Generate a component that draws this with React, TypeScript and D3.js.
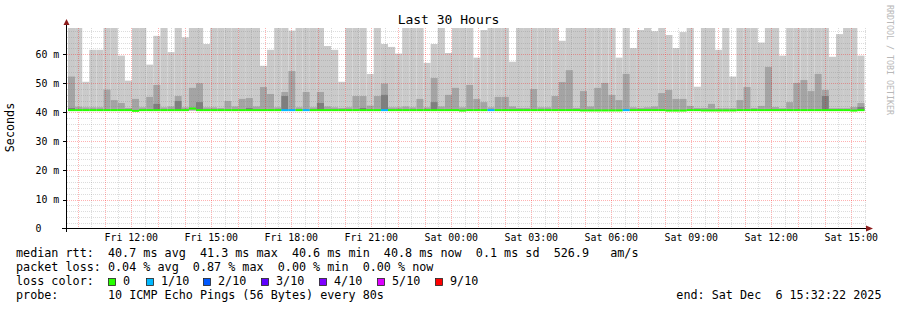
import React from "react";
import * as d3 from "d3";

// ---- data ----
const TITLE = "Last 30 Hours";
const Y_LABEL = "Seconds";
const WATERMARK = "RRDTOOL / TOBI OETIKER";
const T_START = new Date(2025, 11, 5, 9, 35, 15);
const T_END = new Date(2025, 11, 6, 15, 35, 15);
const FIRST_COLUMN = new Date(2025, 11, 5, 9, 37, 30);
const STEP_MS = 960 * 1000;
const Y_MAX_MS = 69;
const Y_TICKS = [0, 10, 20, 30, 40, 50, 60];

// light smoke top (ms), 70 = above the graph top
const smokeTop = [
  70, 70, 50.5, 61.5, 61.5, 70, 70, 59.5, 50.9, 70,
  70, 56.4, 66.3, 70, 60.7, 70, 65.8, 70, 70, 63.5,
  70, 70, 70, 70, 70, 70, 70, 56.0, 61.5, 70,
  70, 68.1, 70, 70, 70, 70, 62.8, 61.5, 50.5, 70,
  70, 70, 53.2, 70, 63.5, 62.5, 60.2, 70, 70, 70,
  57.0, 63.5, 70, 60.4, 70, 70, 70, 58.8, 68.3, 70,
  70, 70, 57.4, 70, 70, 70, 70, 70, 70, 64.6,
  70, 70, 70, 70, 70, 70, 70, 58.8, 70, 62.1,
  68.3, 70, 67.9, 70, 66.6, 62.1, 67.6, 70, 48.8, 70,
  70, 61.5, 70, 52.3, 70, 70, 70, 64.0, 70, 70,
  59.5, 70, 70, 70, 70, 70, 70, 59.1, 66.9, 70,
  70, 59.5,
];
// middle smoke top (ms)
const smokeMid = [
  52.3, 41.9, 41.7, 41.7, 41.7, 47.8, 44.2, 43.2, 41.5, 44.6,
  41.7, 45.3, 49.4, 41.7, 42.0, 45.6, 41.7, 48.4, 50.0, 41.7,
  41.7, 41.5, 43.9, 42.0, 44.6, 44.9, 42.0, 48.7, 46.3, 41.7,
  47.0, 54.2, 41.7, 47.0, 41.7, 47.0, 42.0, 41.7, 41.5, 41.7,
  45.6, 45.6, 42.3, 45.6, 49.9, 41.7, 41.7, 42.0, 41.7, 44.6,
  41.7, 51.8, 42.0, 46.0, 48.4, 41.7, 49.4, 44.6, 43.5, 41.7,
  45.3, 45.3, 42.0, 41.5, 41.5, 48.0, 41.7, 41.7, 45.6, 50.4,
  54.5, 41.5, 47.3, 42.0, 48.4, 50.1, 46.0, 44.2, 53.2, 41.7,
  41.5, 41.7, 42.0, 46.6, 47.7, 44.6, 44.6, 42.2, 41.5, 41.5,
  42.9, 41.4, 41.4, 41.4, 44.2, 48.7, 41.5, 42.2, 55.6, 41.8,
  41.4, 43.5, 50.1, 51.1, 47.3, 53.2, 47.7, 41.4, 41.4, 41.4,
  41.8, 43.2,
];
// dark smoke top (ms), 0 = none
const smokeDark = [
  41.5, 0, 0, 0, 0, 0, 0, 0, 0, 0,
  0, 0, 42.9, 0, 0, 43.9, 0, 0, 43.5, 0,
  0, 0, 0, 0, 0, 41.5, 0, 0, 0, 0,
  45.6, 0, 0, 0, 0, 43.2, 0, 0, 0, 0,
  0, 41.5, 0, 0, 46.0, 0, 0, 0, 0, 0,
  0, 43.5, 0, 0, 0, 0, 0, 0, 0, 0,
  0, 0, 0, 0, 0, 0, 0, 0, 0, 0,
  0, 0, 0, 0, 0, 0, 0, 0, 0, 0,
  0, 0, 0, 0, 0, 0, 0, 0, 0, 0,
  0, 0, 0, 0, 0, 0, 0, 0, 0, 0,
  0, 0, 0, 0, 0, 0, 45.6, 0, 0, 0,
  0, 41.8,
];
// median rtt (ms)
const median = [
  40.75, 40.75, 40.75, 40.75, 40.75, 40.75, 40.75, 40.75, 40.75, 40.5,
  40.75, 40.75, 40.75, 40.75, 40.75, 40.75, 40.75, 41.3, 40.75, 40.75,
  40.75, 40.75, 40.75, 40.75, 40.75, 40.75, 40.75, 40.75, 40.75, 40.75,
  40.75, 40.75, 40.75, 40.75, 40.75, 40.75, 40.75, 40.75, 40.75, 40.75,
  40.75, 40.75, 40.75, 40.75, 40.75, 40.75, 40.75, 40.75, 40.75, 40.75,
  40.75, 40.75, 40.75, 40.75, 40.75, 40.6, 40.75, 40.75, 40.75, 40.75,
  40.75, 40.75, 40.75, 40.75, 40.75, 40.75, 40.75, 40.75, 40.75, 40.75,
  40.75, 40.75, 40.65, 40.65, 40.65, 40.65, 40.65, 40.65, 40.75, 40.75,
  40.75, 40.75, 40.75, 40.75, 40.6, 40.6, 40.6, 40.75, 40.75, 40.65,
  40.65, 40.65, 40.65, 40.65, 40.75, 40.75, 40.75, 40.75, 40.75, 40.75,
  40.75, 40.75, 40.75, 40.75, 40.75, 40.75, 40.75, 40.75, 40.75, 40.75,
  40.6, 40.75,
];
// columns where 1 of 10 pings was lost
const lossCols = [30, 31, 33, 44, 59, 78];

const LOSS_LEVELS = ["0", "1/10", "2/10", "3/10", "4/10", "5/10", "9/10"];
const LOSS_COLORS = ["#26ff00", "#00b8ff", "#0059ff", "#5e00ff", "#7e00ff", "#dd00ff", "#ff0000"];

const LEGEND_RTT = "median rtt:  40.7 ms avg  41.3 ms max  40.6 ms min  40.8 ms now  0.1 ms sd  526.9   am/s";
const LEGEND_LOSS = "packet loss: 0.04 % avg  0.87 % max  0.00 % min  0.00 % now";
const LEGEND_COLOR = "loss color:";
const LEGEND_PROBE = "probe:       10 ICMP Echo Pings (56 Bytes) every 80s";
const LEGEND_END = "end: Sat Dec  6 15:32:22 2025";

// ---- layout ----
const W = 897;
const H = 310;
const PL = 67, PR = 867, PT = 28, PB = 228.6;
const MONO = "'DejaVu Sans Mono', monospace";
const PRE = { whiteSpace: "pre" as const };

export default function App() {
  const x = d3.scaleTime().domain([T_START, T_END]).range([PL, PR]);
  const y = d3.scaleLinear().domain([0, Y_MAX_MS]).range([PB, PT]);
  const SMOKE_BASE = 40.6;

  const cols = smokeTop.map((t, i) => {
    const s = new Date(+FIRST_COLUMN + i * STEP_MS);
    const e = new Date(+FIRST_COLUMN + (i + 1) * STEP_MS);
    return {
      x0: x(s),
      x1: Math.min(x(e), PR),
      top: Math.min(t, Y_MAX_MS),
      mid: smokeMid[i],
      dark: smokeDark[i],
      med: median[i],
      loss: lossCols.includes(i) ? 1 : 0,
    };
  });

  const minorY = d3.range(2, Y_MAX_MS, 2).filter((v) => v % 10 !== 0);
  const majorY = Y_TICKS.filter((v) => v > 0);
  const minorX = d3.timeMinute.every(30)!.range(T_START, T_END).filter((d) => d.getMinutes() !== 0);
  const majorX = d3.timeHour.every(1)!.range(T_START, T_END);
  const labelX = d3.timeHour.every(3)!.range(T_START, T_END);
  const fmt = d3.timeFormat("%a %H:%M");

  const swatchX = [108, 146, 203, 261, 319, 377, 435];
  const minorStroke = "rgba(128,128,128,0.28)";
  const majorStroke = "rgba(255,0,0,0.3)";

  return (
    <svg
      width={W}
      height={H}
      style={{ position: "absolute", left: 0, top: 0, background: "#fff" }}
      fontFamily={MONO}
    >
      <rect x={0} y={0} width={W} height={H} fill="#fff" />
      <text x={448.5} y={24} fontSize={13} textAnchor="middle" fill="#000">
        {TITLE}
      </text>
      <text transform={`translate(887,5) rotate(90)`} fontSize={8.3} fill="#b8b8b8">
        {WATERMARK}
      </text>
      <text transform={`translate(14,127.5) rotate(-90)`} fontSize={11.75} textAnchor="middle" fill="#000">
        {Y_LABEL}
      </text>

      {/* smoke */}
      {cols.map((c, i) => (
        <g key={"s" + i}>
          <rect x={c.x0} width={c.x1 - c.x0} y={y(c.top)} height={y(SMOKE_BASE) - y(c.top)} fill="#cacaca" />
          <rect x={c.x0} width={c.x1 - c.x0} y={y(c.mid)} height={y(SMOKE_BASE) - y(c.mid)} fill="#a4a4a4" />
          {c.dark > 0 && (
            <rect x={c.x0} width={c.x1 - c.x0} y={y(c.dark)} height={y(SMOKE_BASE) - y(c.dark)} fill="#7e7e7e" />
          )}
        </g>
      ))}

      {/* grid */}
      <g strokeDasharray="1,1" strokeWidth={1} shapeRendering="crispEdges">
        {minorY.map((v) => (
          <line key={"my" + v} x1={PL} x2={PR} y1={Math.round(y(v)) + 0.5} y2={Math.round(y(v)) + 0.5} stroke={minorStroke} />
        ))}
        {minorX.map((d, i) => (
          <line key={"mx" + i} x1={Math.round(x(d)) + 0.5} x2={Math.round(x(d)) + 0.5} y1={PT} y2={PB} stroke={minorStroke} />
        ))}
        {majorY.map((v) => (
          <line key={"My" + v} x1={PL} x2={PR} y1={Math.round(y(v)) + 0.5} y2={Math.round(y(v)) + 0.5} stroke={majorStroke} />
        ))}
        {majorX.map((d, i) => (
          <line key={"Mx" + i} x1={Math.round(x(d)) + 0.5} x2={Math.round(x(d)) + 0.5} y1={PT} y2={PB} stroke={majorStroke} />
        ))}
      </g>

      {/* median line */}
      {cols.map((c, i) => (
        <rect key={"m" + i} x={c.x0} width={c.x1 - c.x0} y={y(c.med) - 1} height={2} fill={LOSS_COLORS[c.loss]} />
      ))}

      {/* axes */}
      <g shapeRendering="crispEdges">
        <line x1={62} x2={870} y1={228.5} y2={228.5} stroke="#000" />
        <line x1={66.5} x2={66.5} y1={232} y2={24} stroke="#000" />
        {majorY.map((v) => (
          <line key={"t" + v} x1={63} x2={67} y1={Math.round(y(v)) + 0.5} y2={Math.round(y(v)) + 0.5} stroke="#000" />
        ))}
      </g>
      <path d="M866,225.5 L873,228.5 L866,231.5 Z" fill="#8c1c1c" />
      <path d="M63.5,25 L66.5,19 L69.5,25 Z" fill="#8c1c1c" />

      {/* y tick labels */}
      {Y_TICKS.map((v) => (
        <text key={"yl" + v} x={35.5} y={y(v) + 3.6} fontSize={9.9} fill="#000" xmlSpace="preserve" style={PRE}>
          {v === 0 ? "0" : `${v} m`}
        </text>
      ))}
      {/* x tick labels */}
      {labelX.map((d, i) => (
        <text key={"xl" + i} x={x(d)} y={240.7} fontSize={9.9} textAnchor="middle" fill="#000">
          {fmt(d)}
        </text>
      ))}

      {/* legend */}
      <g fontSize={11.75} fill="#000">
        <text x={16} y={257.3} xmlSpace="preserve" style={PRE}>{LEGEND_RTT}</text>
        <text x={16} y={271.3} xmlSpace="preserve" style={PRE}>{LEGEND_LOSS}</text>
        <text x={16} y={285.3} xmlSpace="preserve" style={PRE}>{LEGEND_COLOR}</text>
        {LOSS_LEVELS.map((l, i) => (
          <g key={"lg" + i}>
            <rect x={swatchX[i] + 0.5} y={278.5} width={7} height={7} fill={LOSS_COLORS[i]} stroke="#222" strokeWidth={0.8} />
            <text x={swatchX[i] + 15} y={285.3}>{l}</text>
          </g>
        ))}
        <text x={16} y={299.3} xmlSpace="preserve" style={PRE}>{LEGEND_PROBE}</text>
        <text x={881.5} y={299.3} textAnchor="end" xmlSpace="preserve" style={PRE}>{LEGEND_END}</text>
      </g>
    </svg>
  );
}
